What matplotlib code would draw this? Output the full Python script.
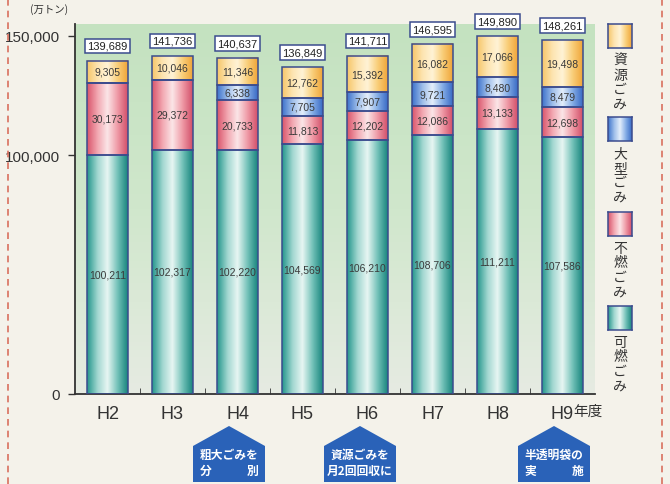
import numpy as np
import matplotlib
matplotlib.use("Agg")
import matplotlib.pyplot as plt
from matplotlib.patches import Polygon
from matplotlib.lines import Line2D
from matplotlib.colors import LinearSegmentedColormap

# data (万トン)
years = ["H2", "H3", "H4", "H5", "H6", "H7", "H8", "H9"]
kanen = [100211, 102317, 102220, 104569, 106210, 108706, 111211, 107586]   # 可燃ごみ
funen = [30173, 29372, 20733, 11813, 12202, 12086, 13133, 12698]           # 不燃ごみ
ogata = [0, 0, 6338, 7705, 7907, 9721, 8480, 8479]                         # 大型ごみ
shigen = [9305, 10046, 11346, 12762, 15392, 16082, 17066, 19498]           # 資源ごみ
totals = [139689, 141736, 140637, 136849, 141711, 146595, 149890, 148261]
names = ["可燃ごみ", "不燃ごみ", "大型ごみ", "資源ごみ"]

cjk = ["Noto Sans CJK JP", "DejaVu Sans"]
num = ["Liberation Sans Narrow", "Liberation Sans", "DejaVu Sans"]

W, H = 670, 485
fig = plt.figure(figsize=(W / 100, H / 100), dpi=100)
fig.patch.set_facecolor("#f4f2ea")

def fx(px):
    return px / W

def fy(py):
    return 1 - py / H

ax = fig.add_axes([fx(75), fy(395), fx(595) - fx(75), fy(25) - fy(395)])
ax.set_xlim(-0.5, 7.5)
ax.set_ylim(0, 155000)
ax.patch.set_alpha(0)

# plot area background: green fading to pale
bg = LinearSegmentedColormap.from_list("bg", ["#e6ebe2", "#d0e7cc", "#c4e2c0"])
ax.imshow(np.linspace(0, 1, 100).reshape(-1, 1), cmap=bg, origin="lower",
          extent=(0, 1, 0, 1), transform=ax.transAxes, aspect="auto", zorder=0)

# gradient colormaps per series (dark edge - light centre - dark edge)
grads = {
    "可燃ごみ": ["#26978d", "#9fd6cf", "#e8f6f3", "#74c2b9", "#1a867e"],
    "不燃ごみ": ["#d9566c", "#f2a6b0", "#fbe6e8", "#ef9aa6", "#d2506a"],
    "大型ごみ": ["#3f74cc", "#9dbde9", "#e4eefb", "#86aee6", "#3a6cc6"],
    "資源ごみ": ["#f6c66a", "#fde4b0", "#fff3d6", "#f9cf7a", "#f0a63a"],
}
cmaps = {k: LinearSegmentedColormap.from_list(k, v) for k, v in grads.items()}
edge = "#3b4c8e"

x = np.arange(len(years))
width = 0.63
bottom = np.zeros(len(years))
series = [kanen, funen, ogata, shigen]
grad_img = np.linspace(0, 1, 64).reshape(1, -1)
for name, vals in zip(names, series):
    vals = np.array(vals, dtype=float)
    bars = ax.bar(x, vals, width, bottom=bottom, facecolor="none",
                  edgecolor=edge, linewidth=1.1, zorder=3)
    for b, v in zip(bars, vals):
        if v <= 0:
            continue
        x0, y0, bw, bh = b.get_x(), b.get_y(), b.get_width(), b.get_height()
        ax.imshow(grad_img, cmap=cmaps[name], extent=(x0, x0 + bw, y0, y0 + bh),
                  aspect="auto", zorder=2)
        ax.text(x0 + bw / 2, y0 + bh / 2, f"{int(v):,}", ha="center", va="center",
                fontsize=7.5, color="#3a3a3a", family=num, zorder=4)
    bottom += vals

# totals in boxes
for xi, t, top in zip(x, totals, bottom):
    ax.annotate(f"{t:,}", (xi, top), xytext=(0, 7), textcoords="offset points",
                ha="center", va="bottom", fontsize=8, color="#222222", family=num,
                bbox=dict(boxstyle="square,pad=0.2", fc="white", ec="#3b4c8e", lw=1.1),
                zorder=5)

# axes styling
for s in ["top", "right"]:
    ax.spines[s].set_visible(False)
for s in ["left", "bottom"]:
    ax.spines[s].set_color("#333333")
    ax.spines[s].set_linewidth(1.3)
ax.set_yticks([0, 100000, 150000])
ax.set_yticklabels(["0", "100,000", "150,000"], family=num, fontsize=11, color="#333333")
ax.tick_params(axis="y", length=5, width=1, color="#333333", pad=6)
ax.set_xticks(x)
ax.set_xticklabels(years, fontsize=13, color="#333333", family=["Liberation Sans", "DejaVu Sans"])
ax.tick_params(axis="x", length=0, pad=8)
ax.set_xticks(x[:-1] + 0.5, minor=True)
ax.tick_params(axis="x", which="minor", direction="in", length=4, color="#333333")
ax.text(7.17, -0.045, "年度", transform=ax.get_xaxis_transform(), ha="left", va="center",
        fontsize=10.5, color="#333333", family=cjk)

fig.text(fx(30), fy(10), "(万トン)", fontsize=7.5, color="#333333", family=cjk, va="center")

# legend (vertical text)
leg = [("資源ごみ", 25), ("大型ごみ", 118), ("不燃ごみ", 213), ("可燃ごみ", 307)]
for name, ytop in leg:
    lax = fig.add_axes([fx(608), fy(ytop + 24), fx(632) - fx(608), fy(ytop) - fy(ytop + 24)])
    lax.imshow(grad_img, cmap=cmaps[name], aspect="auto", extent=(0, 1, 0, 1))
    lax.set_xticks([])
    lax.set_yticks([])
    for s in lax.spines.values():
        s.set_color(edge)
        s.set_linewidth(1.1)
    fig.text(fx(620), fy(ytop + 29), "\n".join(name), ha="center", va="top",
             fontsize=10, linespacing=1.05, color="#333333", family=cjk)

# notes in house-shaped labels
notes = [(229, "粗大ごみを\n分　　　別"), (360, "資源ごみを\n月2回回収に"), (554, "半透明袋の\n実　　　施")]
for cx, txt in notes:
    pts = [(cx, 427), (cx + 36, 447), (cx + 36, 483), (cx - 36, 483), (cx - 36, 447)]
    fig.patches.append(Polygon([(fx(a), fy(b)) for a, b in pts], closed=True,
                               transform=fig.transFigure, fc="#2a62b8", ec="none"))
    fig.text(fx(cx), fy(463), txt, ha="center", va="center", fontsize=8.5,
             color="white", weight="bold", linespacing=1.3, family=cjk)

# dashed frame lines
for px in (8, 662):
    fig.add_artist(Line2D([fx(px), fx(px)], [0, 1], transform=fig.transFigure,
                          color="#d9705e", lw=1.2, ls=(0, (4, 3))))

fig.savefig("out.png", dpi=100, facecolor=fig.get_facecolor())
